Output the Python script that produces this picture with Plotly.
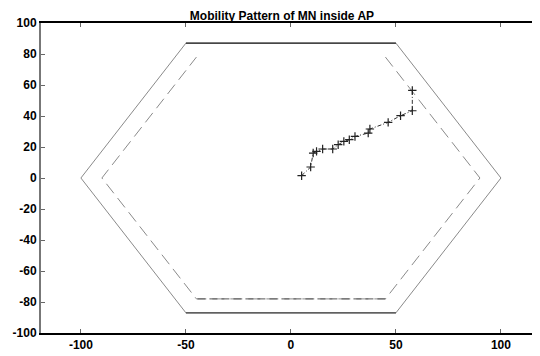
import plotly.graph_objects as go

# Outer (solid) and inner (dashed) hexagon boundaries
outer_x = [-100, -50, 50, 100, 50, -50, -100]
outer_y = [0, 87, 87, 0, -87, -87, 0]
inner_x = [45, 90, 45, -45, -90, -45]
inner_y = [78, 0, -78, -78, 0, 78]

# Mobile node path
path_x = [5.1, 9.4, 10.6, 12.2, 15.1, 19.9, 22.5, 25.2, 27.8, 30.5, 36.8, 37.6, 46.3, 52.2, 57.8, 57.8]
path_y = [1.5, 7.1, 16.1, 17.2, 18.7, 18.7, 21.5, 23.6, 24.7, 26.8, 29.0, 31.6, 35.9, 40.2, 43.4, 56.5]

xticks = [-100, -50, 0, 50, 100]
yticks = [-100, -80, -60, -40, -20, 0, 20, 40, 60, 80, 100]

fig = go.Figure()
# outer hexagon: sides grey, top/bottom black
fig.add_trace(go.Scatter(x=outer_x, y=outer_y, mode="lines",
                         line=dict(color="#8a8a8a", width=1), hoverinfo="skip"))
fig.add_trace(go.Scatter(x=[outer_x[1], outer_x[2]], y=[outer_y[1], outer_y[2]], mode="lines",
                         line=dict(color="#222222", width=1.3), hoverinfo="skip"))
fig.add_trace(go.Scatter(x=[outer_x[4], outer_x[5]], y=[outer_y[4], outer_y[5]], mode="lines",
                         line=dict(color="#444444", width=1.3), hoverinfo="skip"))
# inner dashed hexagon (no top edge)
fig.add_trace(go.Scatter(x=inner_x, y=inner_y, mode="lines",
                         line=dict(color="#8a8a8a", width=1, dash="12px,6px"), hoverinfo="skip"))
fig.add_trace(go.Scatter(x=[inner_x[2], inner_x[3]], y=[inner_y[2], inner_y[3]], mode="lines",
                         line=dict(color="#555555", width=1, dash="8px,4px"), hoverinfo="skip"))
# path
fig.add_trace(go.Scatter(x=path_x, y=path_y, mode="lines+markers",
                         line=dict(color="#333333", width=1, dash="4px,2px,1px,2px"),
                         marker=dict(symbol="cross-thin", size=6,
                                     line=dict(color="#222222", width=1.2)),
                         hoverinfo="skip"))

fig.update_layout(
    width=532, height=348,
    margin=dict(l=33, r=0, t=15, b=23),
    paper_bgcolor="white", plot_bgcolor="white",
    showlegend=False,
    title=dict(text="<b>Mobility Pattern of MN inside AP</b>", x=0.515, xanchor="center",
               y=0.99, yanchor="top", yref="container", xref="container",
               pad=dict(t=0, b=0),
               font=dict(family="Liberation Sans, Arial", size=12, color="black")),
    font=dict(family="Liberation Sans, Arial", size=12, color="black"),
)
fig.update_xaxes(range=[-119, 118.6], tickvals=xticks, ticktext=[f"<b>{t}</b>" for t in xticks],
                 showgrid=False, zeroline=False, showline=True, linecolor="black", linewidth=2,
                 ticks="inside", ticklen=4, tickcolor="#666666", mirror="ticks",
                 automargin=False, tickfont=dict(size=12))
fig.update_yaxes(range=[-100, 100], tickvals=yticks, ticktext=[f"<b>{t}</b>" for t in yticks],
                 showgrid=False, zeroline=False, showline=True, linecolor="#777777", linewidth=2,
                 ticks="inside", ticklen=4, tickcolor="#666666", mirror="ticks",
                 automargin=False, tickfont=dict(size=12))

fig.write_html("out.html")
